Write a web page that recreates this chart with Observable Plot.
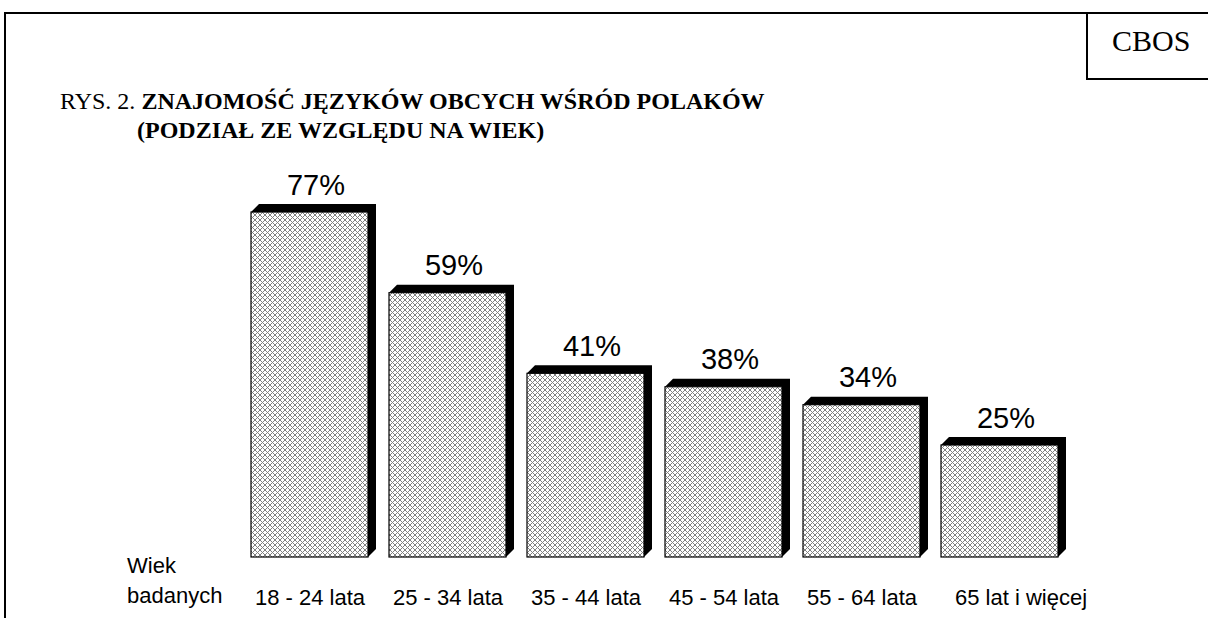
<!DOCTYPE html>
<html>
<head>
<meta charset="utf-8">
<script src="https://cdn.jsdelivr.net/npm/d3@7"></script>
<script src="https://cdn.jsdelivr.net/npm/@observablehq/plot@0.6"></script>
<style>
  html, body { margin: 0; padding: 0; background: #fff; }
  #page { position: relative; width: 1208px; height: 618px; overflow: hidden; background: #fff; }
  #page > svg.plot, #page > svg { position: absolute; left: 0; top: 0; }
  .line { position: absolute; background: #000; }
  .serif { font-family: "Liberation Serif", "Times New Roman", serif; color: #000; position: absolute; white-space: nowrap; }
  .sans { font-family: "Liberation Sans", Arial, sans-serif; color: #000; position: absolute; white-space: nowrap; }
</style>
</head>
<body>
<svg width="0" height="0" style="position:absolute">
  <defs>
    <pattern id="pat" width="5" height="5" patternUnits="userSpaceOnUse">
      <rect width="5" height="5" fill="#fff"/>
      <path d="M0,0L5,5M5,0L0,5" stroke="#808080" stroke-width="1"/>
    </pattern>
  </defs>
</svg>
<div id="page"></div>
<script>
const categories = ["18 - 24 lata", "25 - 34 lata", "35 - 44 lata", "45 - 54 lata", "55 - 64 lata", "65 lat i więcej"];
const values = [77, 59, 41, 38, 34, 25];
const titleLine1Regular = "RYS. 2. ";
const titleLine1Bold = "ZNAJOMOŚĆ JĘZYKÓW OBCYCH WŚRÓD POLAKÓW";
const titleLine2 = "(PODZIAŁ ZE WZGLĘDU NA WIEK)";
const sourceLabel = "CBOS";
const axisLabel = ["Wiek", "badanych"];

const data = categories.map((c, i) => ({cat: c, value: values[i]}));
const depth = 8;

const shadowRender = function(index, scales, vals, dims, ctx, next) {
  const g = next(index, scales, vals, dims, ctx);
  d3.select(g).selectAll("rect").each(function() {
    const r = d3.select(this);
    const x = +r.attr("x"), y = +r.attr("y"), w = +r.attr("width"), h = +r.attr("height");
    const p = `M${x},${y}L${x + depth},${y - depth}L${x + w + depth},${y - depth}L${x + w + depth},${y + h - depth}L${x + w},${y + h}L${x + w},${y}Z`;
    const path = document.createElementNS("http://www.w3.org/2000/svg", "path");
    path.setAttribute("d", p);
    this.parentNode.insertBefore(path, this);
    this.remove();
  });
  return g;
};

const sans = "'Liberation Sans', Arial, sans-serif";

const chart = Plot.plot({
  width: 1208,
  height: 618,
  marginTop: 109,
  marginBottom: 61,
  marginLeft: 238.7,
  marginRight: 137.7,
  style: {background: "transparent", overflow: "visible", fontFamily: sans},
  x: {domain: categories, paddingInner: 0.149, paddingOuter: 0.0745, axis: null},
  y: {domain: [0, 100], axis: null},
  marks: [
    Plot.barY(data, {x: "cat", y: "value", fill: "black", render: shadowRender}),
    Plot.barY(data, {x: "cat", y: "value", fill: "url(#pat)", stroke: "black", strokeWidth: 1.2}),
    Plot.text(data, {x: "cat", y: "value", text: d => d.value + "%", dy: -18, dx: 6, lineAnchor: "bottom", fontSize: 29, fontFamily: sans, fill: "black"}),
    Plot.text(data.slice(0, 5), {x: "cat", text: "cat", frameAnchor: "bottom", dy: 32, lineAnchor: "top", fontSize: 22, fontFamily: sans, fill: "black"}),
    Plot.text(data.slice(5), {x: "cat", text: "cat", frameAnchor: "bottom", dy: 32, dx: 21, lineAnchor: "top", fontSize: 22, fontFamily: sans, fill: "black"})
  ]
});

const page = document.getElementById("page");
page.appendChild(chart);

function addLine(l, t, w, h) {
  const d = document.createElement("div");
  d.className = "line";
  Object.assign(d.style, {left: l + "px", top: t + "px", width: w + "px", height: h + "px"});
  page.appendChild(d);
}
// outer frame
addLine(4, 12, 1204, 2);
addLine(4, 12, 2, 606);
// CBOS box
addLine(1086, 12, 2, 68);
addLine(1086, 78, 122, 2);

function addText(cls, left, top, size, lh, html) {
  const d = document.createElement("div");
  d.className = cls;
  Object.assign(d.style, {left: left + "px", top: top + "px", fontSize: size + "px", lineHeight: lh + "px"});
  d.innerHTML = html;
  page.appendChild(d);
  return d;
}
addText("serif", 1112, 26, 30, 30, sourceLabel);
addText("serif", 60, 88, 24, 26, titleLine1Regular + "<b>" + titleLine1Bold + "</b>");
addText("serif", 137, 117, 24, 26, "<b>" + titleLine2 + "</b>");
addText("sans", 127, 551, 22, 30, axisLabel.join("<br>"));
</script>
</body>
</html>
